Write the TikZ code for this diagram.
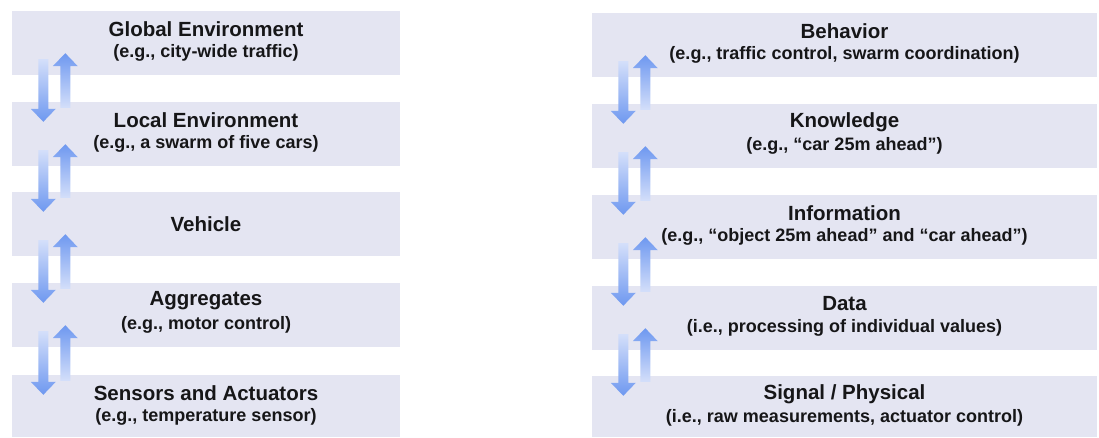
\documentclass[tikz,border=0pt]{standalone}
\usepackage{fontspec}
\setmainfont{Liberation Sans}
\usetikzlibrary{calc}

\definecolor{layerfill}{RGB}{228,229,242}
\definecolor{arrowhead}{RGB}{110,152,240}
\definecolor{arrowtail}{RGB}{212,223,250}
\definecolor{inktext}{RGB}{22,22,24}

\tikzset{
  layer/.style={fill=layerfill, draw=none, inner sep=0pt, minimum height=64pt},
  leftlayer/.style={layer, minimum width=388pt},
  rightlayer/.style={layer, minimum width=505pt},
  ttl/.style={text=inktext, font=\fontsize{20.5}{24}\selectfont\bfseries, inner sep=0pt},
  sub/.style={text=inktext, font=\fontsize{18}{21}\selectfont\bfseries, inner sep=0pt},
}

% block arrow pointing up: #1 = tail, #2 = tip
\newcommand\liftarrow[2]{%
  \shade[top color=arrowhead, bottom color=arrowtail]
    ($(#1)+(-5,0)$) -- ($(#2)+(-5,13)$) -- ($(#2)+(-12.5,13)$) -- (#2)
    -- ($(#2)+(12.5,13)$) -- ($(#2)+(5,13)$) -- ($(#1)+(5,0)$) -- cycle;}
% block arrow pointing down: #1 = tail, #2 = tip
\newcommand\droparrow[2]{%
  \shade[top color=arrowtail, bottom color=arrowhead]
    ($(#1)+(-5,0)$) -- ($(#2)+(-5,-13)$) -- ($(#2)+(-12.5,-13)$) -- (#2)
    -- ($(#2)+(12.5,-13)$) -- ($(#2)+(5,-13)$) -- ($(#1)+(5,0)$) -- cycle;}

\begin{document}
\begin{tikzpicture}[x=1pt, y=-1pt]
\useasboundingbox[fill=white] (0,0) rectangle (1099,437);

% left stack: system levels
\node[leftlayer] (L1) at (206,43) {};
\node[leftlayer] (L2) at (206,134) {};
\node[leftlayer] (L3) at (206,224) {};
\node[leftlayer] (L4) at (206,315) {};
\node[leftlayer, minimum height=62pt] (L5) at (206,406) {};

% right stack: abstraction levels
\node[rightlayer] (R1) at (844.5,45) {};
\node[rightlayer] (R2) at (844.5,136) {};
\node[rightlayer] (R3) at (844.5,227) {};
\node[rightlayer] (R4) at (844.5,318) {};
\node[rightlayer, minimum height=61pt] (R5) at (844.5,406.5) {};

% labels
\node[ttl] (L1t) at ($(L1.north)+(0,18)$) {Global Environment};
\node[sub] (L1s) at ($(L1.north)+(0,42)$) {(e.g., city-wide traffic)};
\node[ttl] (L2t) at ($(L2.north)+(0,18)$) {Local Environment};
\node[sub] (L2s) at ($(L2.north)+(0,42)$) {(e.g., a swarm of five cars)};
\node[ttl] (L3t) at (L3.center) {Vehicle};
\node[ttl] (L4t) at ($(L4.north)+(0,18)$) {Aggregates};
\node[sub] (L4s) at ($(L4.north)+(0,42)$) {(e.g., motor control)};
\node[ttl] (L5t) at ($(L5.north)+(0,18)$) {Sensors and Actuators};
\node[sub] (L5s) at ($(L5.north)+(0,42)$) {(e.g., temperature sensor)};

\node[ttl] (R1t) at ($(R1.north)+(0,18)$) {Behavior};
\node[sub] (R1s) at ($(R1.north)+(0,42)$) {(e.g., traffic control, swarm coordination)};
\node[ttl] (R2t) at ($(R2.north)+(0,18)$) {Knowledge};
\node[sub] (R2s) at ($(R2.north)+(0,42)$) {(e.g., “car 25m ahead”)};
\node[ttl] (R3t) at ($(R3.north)+(0,18)$) {Information};
\node[sub] (R3s) at ($(R3.north)+(0,42)$) {(e.g., “object 25m ahead” and “car ahead”)};
\node[ttl] (R4t) at ($(R4.north)+(0,18)$) {Data};
\node[sub] (R4s) at ($(R4.north)+(0,42)$) {(i.e., processing of individual values)};
\node[ttl] (R5t) at ($(R5.north)+(0,18)$) {Signal / Physical};
\node[sub] (R5s) at ($(R5.north)+(0,42)$) {(i.e., raw measurements, actuator control)};

% paired up/down arrows between neighbouring levels
\foreach \a/\b in {L1/L2,L2/L3,L3/L4,L4/L5,R1/R2,R2/R3,R3/R4,R4/R5} {
  \coordinate (\a-dn-tail) at ($(\a.south west)+(31.5,-16)$);
  \coordinate (\a-dn-tip)  at ($(\b.north west)+(31.5,20)$);
  \coordinate (\a-up-tail) at ($(\b.north west)+(53.5,6)$);
  \coordinate (\a-up-tip)  at ($(\a.south west)+(53.5,-22)$);
  \droparrow{\a-dn-tail}{\a-dn-tip}
  \liftarrow{\a-up-tail}{\a-up-tip}
}
\end{tikzpicture}
\end{document}
